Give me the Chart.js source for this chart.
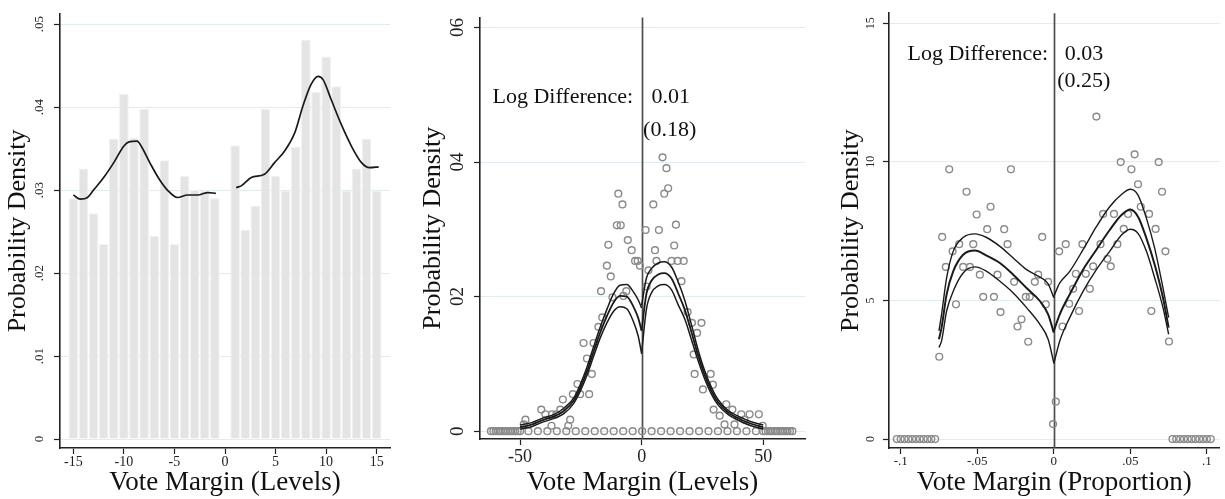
<!DOCTYPE html>
<html>
<head>
<meta charset="utf-8">
<script src="https://cdn.jsdelivr.net/npm/chart.js@4.4.1/dist/chart.umd.min.js"></script>
<style>
  html, body { margin: 0; padding: 0; background: #fff; width: 1225px; height: 499px; overflow: hidden; }
  canvas { position: absolute; top: 0; }
</style>
</head>
<body>
<canvas id="levelsHist" width="410" height="499" style="left:0px"></canvas>
<canvas id="levelsDens" width="415" height="499" style="left:410px"></canvas>
<canvas id="propDens" width="395" height="499" style="left:830px"></canvas>
<script>
// ---------- Panel 1: histogram of vote margin (levels) with kernel density ----------
const histX = [-15, -14, -13, -12, -11, -10, -9, -8, -7, -6, -5, -4, -3, -2, -1,
               1, 2, 3, 4, 5, 6, 7, 8, 9, 10, 11, 12, 13, 14, 15];
const histY = [0.0290, 0.0326, 0.0272, 0.0235, 0.0362, 0.0416, 0.0363, 0.0398, 0.0245, 0.0336,
               0.0235, 0.0317, 0.0300, 0.0299, 0.0290,
               0.0354, 0.0252, 0.0281, 0.0398, 0.0317, 0.0299, 0.0352, 0.0481, 0.0418, 0.0461,
               0.0425, 0.0299, 0.0326, 0.0362, 0.0299];
const kdeLeftX  = [-15.0, -14.3, -13.6, -13.0, -12.0, -11.0, -10.0, -9.5, -8.7, -8.2, -7.35, -6.5, -5.7, -4.7, -3.7, -2.7, -1.7, -0.9];
const kdeLeftY  = [0.0294, 0.0289, 0.0291, 0.0300, 0.0315, 0.0333, 0.0353, 0.0358, 0.0359, 0.0351, 0.0331, 0.0313, 0.0300, 0.0291, 0.0294, 0.0294, 0.0297, 0.0296];
const kdeRightX = [1.1, 1.6, 2.6, 3.9, 4.9, 5.9, 6.9, 7.7, 8.5, 9.2, 9.7, 10.5, 11.5, 12.5, 13.5, 14.3, 15.2];
const kdeRightY = [0.0303, 0.0305, 0.0315, 0.0319, 0.0333, 0.0347, 0.0369, 0.0401, 0.0427, 0.0437, 0.0433, 0.0409, 0.0379, 0.0353, 0.0333, 0.0327, 0.0328];
const p1XTicks = [-15, -10, -5, 0, 5, 10, 15];
const p1XLabels = ['-15', '-10', '-5', '0', '5', '10', '15'];
const p1YTicks = [0, 0.01, 0.02, 0.03, 0.04, 0.05];
const p1YLabels = ['0', '.01', '.02', '.03', '.04', '.05'];

// ---------- Panel 2: binned density (levels) with local linear fits ----------
const midDotX = [
  -62, -61, -60, -59, -58, -57, -56, -55, -54, -53, -52, -51, -50,
  -46.6, -42.7, -38.8, -34.9, -31.0, -27.1, -23.2, -19.3, -15.4, -11.5, -7.6, -3.7,
  0.2, 4.1, 8.0, 11.9, 15.8, 19.7, 23.6, 27.5, 31.4, 35.3, 39.2, 43.1, 47.0,
  50, 51, 52, 53, 54, 55, 56, 57, 58, 59, 60, 61, 62,
  -9.6, -7.9, -10.2, -8.6, -13.7, -5.7, -4.1, -2.7, -1.6, -0.7, -14.3, -12.7, -16.7, -6.3, -7.5,
  -12.0, -16.2, -17.8, -23.9, -19.8, -22.5, -20.5, -26.4, -28.3, -25.3, -21.6, -32.4, -41.3, -33.5,
  -39.6, -36.9, -35.1, -29.4, -47.8, -48.5, -30.2, -37.1,
  8.6, 10.2, 10.9, 9.3, 4.8, 14.1, 1.6, 7.1, 13.4, 5.5, 6.1, 12.3, 14.8, 17.3, 2.8, 16.4, 2.0,
  18.9, 20.7, 24.6, 22.8, 21.4, 21.8, 28.4, 29.3, 25.2, 29.6, 34.8, 37.3, 32.1, 41.0, 44.4, 48.2,
  42.3, 34.1, 38.2, 49.8
];
const midDotY = [
  0, 0, 0, 0, 0, 0, 0, 0, 0, 0, 0, 0, 0,
  0, 0, 0, 0, 0, 0, 0, 0, 0, 0, 0, 0,
  0, 0, 0, 0, 0, 0, 0, 0, 0, 0, 0, 0, 0,
  0, 0, 0, 0, 0, 0, 0, 0, 0, 0, 0, 0, 0,
  0.0353, 0.0337, 0.0306, 0.0306, 0.0277, 0.0284, 0.0269, 0.0253, 0.0253, 0.0246, 0.0246, 0.0230, 0.0208, 0.0208, 0.0201,
  0.0199, 0.0169, 0.0155, 0.0131, 0.0131, 0.0108, 0.0085, 0.0070, 0.0055, 0.0055, 0.0055, 0.0047, 0.0032, 0.0032,
  0.0025, 0.0025, 0.0025, 0.0017, 0.0017, 0.0010, 0.0008, 0.0008,
  0.0407, 0.0391, 0.0361, 0.0353, 0.0337, 0.0307, 0.0299, 0.0299, 0.0276, 0.0269, 0.0253, 0.0253, 0.0253, 0.0253, 0.0239, 0.0223, 0.0215,
  0.0177, 0.0161, 0.0161, 0.0146, 0.0114, 0.0085, 0.0085, 0.0069, 0.0062, 0.0032, 0.0040, 0.0032, 0.0023, 0.0025, 0.0025, 0.0025,
  0.0017, 0.0010, 0.0010, 0.0008
];
const midFitLeftX   = [-50, -45, -41, -36, -32, -28, -25.3, -22.5, -19.8, -17, -14.3, -11.6, -8.9, -6.1, -3.4, -1.4, 0];
const midFitLeft    = [0.0006, 0.0010, 0.0016, 0.0022, 0.0030, 0.0045, 0.0064, 0.0089, 0.0118, 0.0147, 0.0171, 0.0191, 0.0201, 0.0200, 0.0185, 0.0168, 0.0149];
const midFitLeftHi  = [0.0009, 0.0013, 0.0019, 0.0025, 0.0034, 0.0049, 0.0069, 0.0095, 0.0125, 0.0155, 0.0181, 0.0204, 0.0217, 0.0218, 0.0207, 0.0195, 0.0183];
const midFitLeftLo  = [0.0003, 0.0007, 0.0013, 0.0019, 0.0026, 0.0041, 0.0059, 0.0083, 0.0111, 0.0139, 0.0161, 0.0178, 0.0185, 0.0182, 0.0163, 0.0141, 0.0115];
const midFitRightX  = [0, 2, 4.1, 6.8, 9.3, 12.3, 15, 17.7, 20.5, 23.2, 25.9, 28.7, 31.4, 35.5, 41, 45, 50];
const midFitRight   = [0.0150, 0.0205, 0.0224, 0.0233, 0.0235, 0.0227, 0.0205, 0.0181, 0.0147, 0.0113, 0.0084, 0.0060, 0.0043, 0.0028, 0.0017, 0.0011, 0.0006];
const midFitRightHi = [0.0187, 0.0228, 0.0242, 0.0250, 0.0252, 0.0244, 0.0222, 0.0195, 0.0158, 0.0121, 0.0090, 0.0065, 0.0047, 0.0031, 0.0020, 0.0014, 0.0009];
const midFitRightLo = [0.0117, 0.0182, 0.0206, 0.0216, 0.0218, 0.0210, 0.0188, 0.0167, 0.0136, 0.0105, 0.0078, 0.0055, 0.0039, 0.0025, 0.0014, 0.0008, 0.0003];
const p2XTicks = [-50, 0, 50];
const p2XLabels = ['-50', '0', '50'];
const p2YTicks = [0, 0.02, 0.04, 0.06];
const p2YLabels = ['0', '02', '04', '06'];
const p2NoteText = ['Log Difference:', '0.01', '(0.18)'];
const p2NoteX = [-3.5, 4.1, 0.6];
const p2NoteY = [0.0488, 0.0488, 0.0439];
const p2NoteAlign = ['right', 'left', 'left'];

// ---------- Panel 3: binned density (proportion) with local linear fits ----------
const propDotX = [
  -0.1025, -0.1, -0.0975, -0.095, -0.0925, -0.09, -0.0875, -0.085, -0.0825, -0.08, -0.0775,
  0.0775, 0.08, 0.0825, 0.085, 0.0875, 0.09, 0.0925, 0.095, 0.0975, 0.1, 0.1025,
  -0.0683, -0.0280, -0.0570, -0.0413, -0.0504, -0.0729, -0.0435, -0.0324, -0.0076, -0.0618, -0.0526, -0.0302,
  -0.0661, -0.0705, -0.0592, -0.0548, -0.0483, -0.0368, -0.0102, -0.0259, -0.0124, -0.0037, -0.0461, -0.0391,
  -0.0183, -0.0157, -0.0639, -0.0052, -0.0348, -0.0211, -0.0237, -0.0167, -0.0748, -0.0005,
  0.0013, 0.0278, 0.0528, 0.0437, 0.0685, 0.0507, 0.0550, 0.0707, 0.0568, 0.0322, 0.0393, 0.0485, 0.0622,
  0.0457, 0.0665, 0.0078, 0.0187, 0.0305, 0.0415, 0.0035, 0.0729, 0.0350, 0.0372, 0.0257, 0.0144, 0.0209,
  0.0126, 0.0235, 0.0100, 0.0165, 0.0637, 0.0057, 0.0752
];
const propDotY = [
  0, 0, 0, 0, 0, 0, 0, 0, 0, 0, 0,
  0, 0, 0, 0, 0, 0, 0, 0, 0, 0, 0,
  9.73, 9.73, 8.92, 8.38, 8.10, 7.29, 7.57, 7.57, 7.29, 7.03, 7.03, 7.03,
  6.77, 6.21, 6.21, 6.21, 5.93, 5.93, 5.93, 5.67, 5.67, 5.67, 5.13, 5.13,
  5.13, 5.13, 4.86, 4.86, 4.58, 4.32, 4.06, 3.51, 2.97, 0.54,
  1.35, 11.63, 10.27, 9.99, 9.99, 9.73, 9.19, 8.92, 8.38, 8.12, 8.12, 8.12, 8.12,
  7.58, 7.58, 7.03, 7.03, 7.03, 7.03, 6.77, 6.77, 6.50, 6.23, 6.23, 5.96, 5.96,
  5.42, 5.42, 4.88, 4.62, 4.62, 4.06, 3.52
];
const propFitLeftX   = [-0.075, -0.0733, -0.070, -0.0657, -0.0592, -0.0515, -0.0439, -0.0352, -0.0265, -0.0178, -0.0091, -0.0037, 0];
const propFitLeft    = [3.60, 4.02, 5.22, 6.05, 6.65, 6.80, 6.62, 6.35, 5.93, 5.45, 4.98, 4.50, 3.84];
const propFitLeftHi  = [3.90, 4.50, 5.81, 6.77, 7.27, 7.40, 7.27, 6.95, 6.53, 6.11, 5.84, 5.60, 5.10];
const propFitLeftLo  = [3.30, 3.54, 4.62, 5.33, 5.99, 6.21, 6.05, 5.69, 5.27, 4.74, 4.14, 3.60, 2.75];
const propFitRightX  = [0, 0.0039, 0.0104, 0.0191, 0.0278, 0.0365, 0.0442, 0.050, 0.055, 0.0605, 0.0659, 0.0713, 0.075];
const propFitRight   = [3.90, 4.50, 5.22, 6.11, 6.83, 7.54, 8.08, 8.28, 8.02, 7.24, 6.29, 5.10, 4.02];
const propFitRightHi = [5.15, 5.63, 6.05, 6.83, 7.66, 8.38, 8.82, 9.01, 8.80, 7.96, 6.88, 5.45, 4.38];
const propFitRightLo = [2.72, 3.54, 4.38, 5.33, 6.11, 6.77, 7.36, 7.57, 7.42, 6.77, 5.81, 4.74, 3.78];
const p3XTicks = [-0.1, -0.05, 0, 0.05, 0.1];
const p3XLabels = ['-.1', '-.05', '0', '.05', '.1'];
const p3YTicks = [0, 5, 10, 15];
const p3YLabels = ['0', '5', '10', '15'];
const p3NoteText = ['Log Difference:', '0.03', '(0.25)'];
const p3NoteX = [-0.0037, 0.0072, 0.0022];
const p3NoteY = [13.69, 13.69, 12.71];
const p3NoteAlign = ['right', 'left', 'left'];

// ---------- shared styling ----------
const SERIF = '"Liberation Serif", "Times New Roman", Times, serif';
Chart.defaults.font.family = SERIF;
const INK = '#1a1a1a';
const GRID = '#e2ecef';

const pts = (xs, ys) => xs.map((v, i) => ({ x: v, y: ys[i] }));

function curve(xs, ys, width) {
  return {
    type: 'line', data: pts(xs, ys), borderColor: INK, borderWidth: width,
    pointRadius: 0, fill: false, cubicInterpolationMode: 'monotone', order: 0
  };
}
function dots(xs, ys) {
  return {
    type: 'line', data: pts(xs, ys), showLine: false, pointRadius: 3.4,
    pointBorderWidth: 1.4, pointBorderColor: '#8a8a8a', pointBackgroundColor: 'rgba(0,0,0,0)', order: 2
  };
}

// vertical reference line at the cutoff and the in-plot notes
const notesPlugin = {
  id: 'notes',
  beforeDatasetsDraw(chart, args, opts) {
    const { ctx, chartArea, scales: { x } } = chart;
    ctx.save();
    (opts.lines || []).forEach(v => {
      const px = Math.round(x.getPixelForValue(v)) + 0.5;
      ctx.strokeStyle = '#4d4d4d';
      ctx.lineWidth = 1.7;
      ctx.beginPath();
      ctx.moveTo(px, chartArea.top);
      ctx.lineTo(px, chartArea.bottom);
      ctx.stroke();
    });
    ctx.restore();
  },
  afterDatasetsDraw(chart, args, opts) {
    const { ctx, scales: { x, y } } = chart;
    const n = opts.text || [];
    ctx.save();
    ctx.fillStyle = '#111';
    ctx.font = '22px ' + SERIF;
    ctx.textBaseline = 'alphabetic';
    n.forEach((t, i) => {
      ctx.textAlign = opts.align[i];
      ctx.fillText(t, x.getPixelForValue(opts.x[i]), y.getPixelForValue(opts.y[i]));
    });
    ctx.restore();
  }
};

function makeOptions(p) {
  return {
    responsive: false, animation: false, devicePixelRatio: 1, events: [],
    layout: { padding: { top: 10, right: p.padRight, left: 0, bottom: 0 } },
    plugins: {
      legend: { display: false }, tooltip: { enabled: false },
      notes: p.notes || {}
    },
    scales: {
      x: {
        type: 'linear', min: p.xMin, max: p.xMax, offset: false, bounds: 'data',
        afterBuildTicks: s => { s.ticks = p.xTicks.map(v => ({ value: v })); },
        afterFit: s => { s.height = p.xH; },
        ticks: {
          autoSkip: false, maxRotation: 0, padding: p.xPad, color: '#222',
          font: { size: p.xFont, lineHeight: 1.2 },
          callback: (v, i) => p.xLabels[i]
        },
        grid: { drawOnChartArea: false, drawTicks: true, tickLength: 6, tickColor: '#222', tickWidth: 1.2, offset: false },
        border: { display: true, color: '#222', width: 1.6 },
        title: {
          display: true, text: p.xTitle, color: '#111',
          font: { size: 27, lineHeight: 1.2 }, padding: { top: 0, bottom: 0 }
        }
      },
      y: {
        type: 'linear', min: p.yMin, max: p.yMax, bounds: 'data',
        afterBuildTicks: s => { s.ticks = p.yTicks.map(v => ({ value: v })); },
        afterFit: s => { s.width = p.yW; },
        ticks: {
          autoSkip: false, minRotation: 90, maxRotation: 90, crossAlign: 'center',
          padding: p.yPad, color: '#222', font: { size: p.yFont, lineHeight: 1.2 },
          callback: (v, i) => p.yLabels[i]
        },
        grid: { color: GRID, lineWidth: 1, drawTicks: true, tickLength: 6, tickColor: '#222', tickWidth: 1.2 },
        border: { display: true, color: '#222', width: 1.6 },
        title: {
          display: true, text: 'Probability Density', color: '#111',
          font: { size: 26, lineHeight: 1.2 }, padding: { top: p.yTitlePad, bottom: 0 }
        }
      }
    }
  };
}

// Panel 1
new Chart(document.getElementById('levelsHist'), {
  type: 'line',
  data: {
    datasets: [
      curve(kdeLeftX, kdeLeftY, 1.7),
      curve(kdeRightX, kdeRightY, 1.7),
      {
        type: 'bar', data: pts(histX, histY), backgroundColor: '#e4e4e4',
        borderColor: '#f1f1f1', borderWidth: 1, barPercentage: 0.95, categoryPercentage: 1,
        grouped: false, order: 3
      }
    ]
  },
  options: makeOptions({
    padRight: 20, xMin: -16.32, xMax: 16.32, yMin: -0.001075, yMax: 0.05123,
    xTicks: p1XTicks, xLabels: p1XLabels, yTicks: p1YTicks, yLabels: p1YLabels,
    xH: 51, yW: 60, xPad: 0, xFont: 14, yPad: 6, yFont: 13, yTitlePad: 3,
    xTitle: 'Vote Margin (Levels)'
  })
});

// Panel 2
new Chart(document.getElementById('levelsDens'), {
  type: 'line',
  data: {
    datasets: [
      curve(midFitLeftX, midFitLeftHi, 1.5),
      curve(midFitLeftX, midFitLeft, 1.8),
      curve(midFitLeftX, midFitLeftLo, 1.5),
      curve(midFitRightX, midFitRightHi, 1.5),
      curve(midFitRightX, midFitRight, 1.8),
      curve(midFitRightX, midFitRightLo, 1.5),
      dots(midDotX, midDotY)
    ]
  },
  plugins: [notesPlugin],
  options: makeOptions({
    padRight: 20, xMin: -66.5, xMax: 67.2, yMin: -0.00117, yMax: 0.06151,
    xTicks: p2XTicks, xLabels: p2XLabels, yTicks: p2YTicks, yLabels: p2YLabels,
    xH: 60, yW: 70, xPad: 1, xFont: 18, yPad: 6, yFont: 19, yTitlePad: 8,
    xTitle: 'Vote Margin (Levels)',
    notes: { lines: [0], text: p2NoteText, x: p2NoteX, y: p2NoteY, align: p2NoteAlign }
  })
});

// Panel 3
new Chart(document.getElementById('propDens'), {
  type: 'line',
  data: {
    datasets: [
      curve(propFitLeftX, propFitLeftHi, 1.4),
      curve(propFitLeftX, propFitLeft, 2),
      curve(propFitLeftX, propFitLeftLo, 1.4),
      curve(propFitRightX, propFitRightHi, 1.4),
      curve(propFitRightX, propFitRight, 2),
      curve(propFitRightX, propFitRightLo, 1.4),
      dots(propDotX, propDotY)
    ]
  },
  plugins: [notesPlugin],
  options: makeOptions({
    padRight: 5, xMin: -0.10763, xMax: 0.10828, yMin: -0.322, yMax: 15.36,
    xTicks: p3XTicks, xLabels: p3XLabels, yTicks: p3YTicks, yLabels: p3YLabels,
    xH: 51, yW: 59, xPad: 0, xFont: 13, yPad: 6, yFont: 12, yTitlePad: 6,
    xTitle: 'Vote Margin (Proportion)',
    notes: { lines: [0], text: p3NoteText, x: p3NoteX, y: p3NoteY, align: p3NoteAlign }
  })
});
</script>
</body>
</html>
